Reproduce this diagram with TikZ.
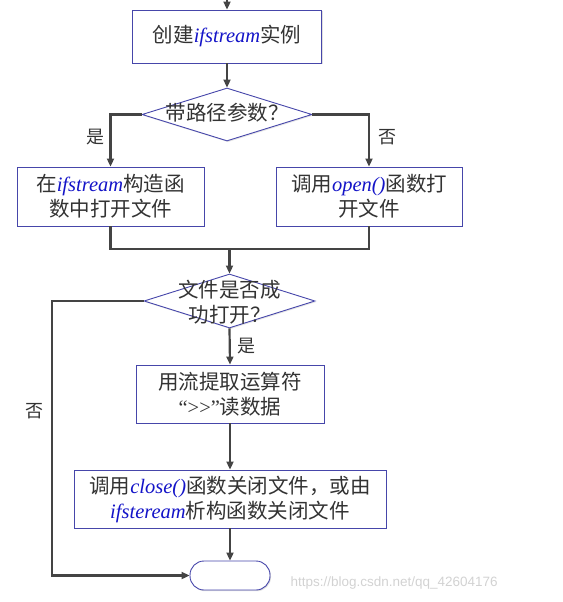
\documentclass[tikz,border=0pt]{standalone}
\usepackage{fontspec}
\setmainfont{Noto Sans CJK SC}
\newfontfamily\en{Liberation Serif}
\newfontfamily\wm{Liberation Sans}
\usetikzlibrary{shapes.geometric,arrows.meta,shadows}
\definecolor{bordc}{HTML}{4646AA}
\definecolor{linec}{HTML}{444444}
\definecolor{codeblue}{HTML}{1414C8}
\definecolor{txtc}{HTML}{333333}
\newcommand\code[1]{{\en\itshape\color{codeblue}#1}}
\tikzset{
  every node/.style={font=\fontsize{20.5}{25}\selectfont, text=txtc},
  procbox/.style={draw=bordc, line width=0.9pt, fill=white, rectangle, inner sep=0pt,
     align=center, drop shadow={opacity=0.25, shadow xshift=1pt, shadow yshift=-1.2pt}},
  decbox/.style={draw=bordc, line width=0.9pt, fill=white, diamond, inner sep=0pt,
     drop shadow={opacity=0.2, shadow xshift=1pt, shadow yshift=-1.2pt}},
  endbox/.style={draw=bordc, line width=0.9pt, fill=white, rectangle, rounded corners=14pt,
     inner sep=0pt, minimum width=80pt, minimum height=29pt,
     drop shadow={opacity=0.25, shadow xshift=1pt, shadow yshift=-1.2pt}},
  conn/.style={draw=linec, line width=2.2pt},
  arr/.style={conn, -{Triangle[length=8pt,width=7pt]}},
  lbl/.style={font=\fontsize{18}{20}\selectfont},
  dtext/.style={align=center},
}
\begin{document}
\begin{tikzpicture}[x=1pt,y=-1pt]
\useasboundingbox (0,0) rectangle (562,602);
% nodes
\node[procbox, minimum width=189pt, minimum height=53pt] (b1) at (227,36.5)
   {创建\code{ifstream}实例};
\node[decbox, minimum width=170pt, minimum height=53pt] (d1) at (227,114.5) {};
\node[dtext] (d1t) at (227,113) {带路径参数？};
\node[procbox, minimum width=187pt, minimum height=59pt] (b2) at (110.5,196.5)
   {在\code{ifstream}构造函\\数中打开文件};
\node[procbox, minimum width=186pt, minimum height=59pt] (b3) at (369,196.5)
   {调用\code{open()}函数打\\开文件};
\coordinate (m) at (229.5,249);
\node[decbox, minimum width=171pt, minimum height=54pt] (d2) at (229.5,301) {};
\node[dtext] (d2t) at (229.5,302) {文件是否成\\功打开？};
\node[procbox, minimum width=188pt, minimum height=58pt] (b4) at (230,394)
   {用流提取运算符\\{\en “>>”}读数据};
\node[procbox, minimum width=312pt, minimum height=58pt] (b5) at (230,499)
   {调用\code{close()}函数关闭文件，或由\\\code{ifsteream}析构函数关闭文件};
\node[endbox] (e) at (230,575.5) {};
\coordinate (top) at (227,0);
\coordinate (nl) at (52,301);
% connectors
\draw[arr] (top) -- (b1.north);
\draw[arr] (b1.south) -- (d1.north);
\draw[arr] (d1.west) -| node[lbl, pos=0.72, left=2pt] (ly1) {是} (b2.north);
\draw[arr] (d1.east) -| node[lbl, pos=0.72, right=5pt] (ln1) {否} (b3.north);
\draw[conn] (b2.south) |- (m) -| (b3.south);
\draw[arr] (m) -- (d2.north);
\draw[arr] (d2.south) -- node[lbl, pos=0.5, right=3pt] (ly2) {是} (b4.north);
\draw[arr] (b4.south) -- (b5.north);
\draw[arr] (b5.south) -- (e.north);
\draw[arr] (d2.west) -- (nl) |- node[lbl, pos=0.2, left=4pt] (ln2) {否} (e.west);
% watermark
\node[font={\wm\fontsize{13.5}{15}\selectfont}, text=gray!35, anchor=west] (wm) at (287,583)
   {https://blog.csdn.net/qq\_42604176};
\end{tikzpicture}
\end{document}
